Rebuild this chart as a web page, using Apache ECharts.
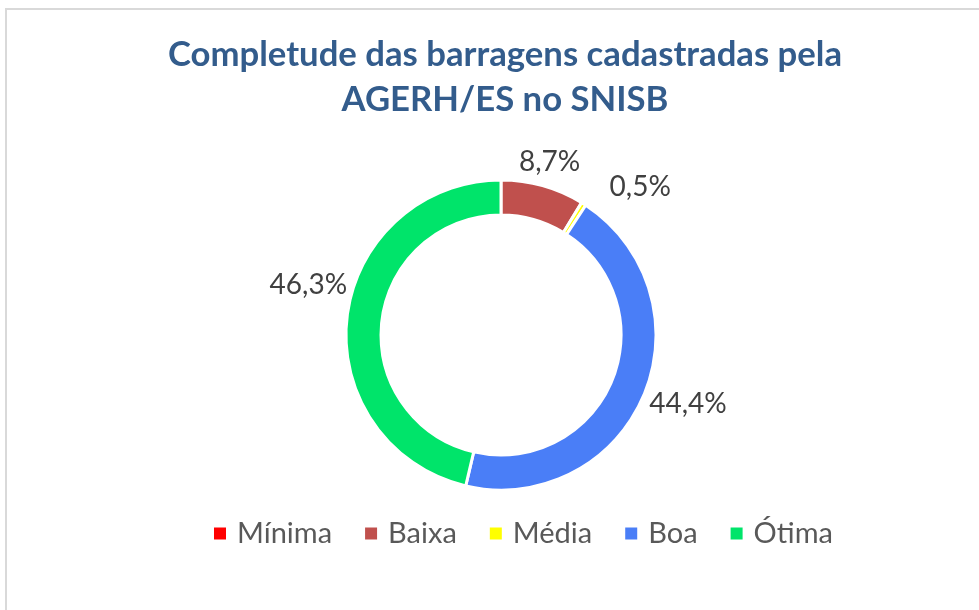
<!DOCTYPE html>
<html>
<head>
<meta charset="utf-8">
<script src="https://cdn.jsdelivr.net/npm/echarts@6/dist/echarts.min.js"></script>
<style>
html,body{margin:0;padding:0;background:#fff;}
#chart{width:979px;height:610px;}
</style>
</head>
<body>
<div id="chart"></div>
<script>
// categorias e valores (%)
var categorias = ['Mínima', 'Baixa', 'Média', 'Boa', 'Ótima'];
var valores = [0, 8.7, 0.5, 44.4, 46.3];
var cores = ['#FF0000', '#C0504D', '#FFFF00', '#4A7EF7', '#00E46A'];

var cx = 501, cy = 335, rExt = 155;
// ajuste manual dos rótulos (o Excel desloca alguns para nao sobrepor)
var ajusteRotulo = {
	'Média': { ang: 11, dist: 14 },
	'Boa': { ang: -3, dist: 0 },
	'Ótima': { ang: 8, dist: 0 }
};

var dados = [];
for (var i = 0; i < categorias.length; i++) {
	dados.push({ name: categorias[i], value: valores[i], itemStyle: { color: cores[i] } });
}

// angulo medio de cada fatia (graus, a partir das 12h no sentido horario)
var total = 0;
for (var i = 0; i < valores.length; i++) total += valores[i];
var angMeio = [];
var acum = 0;
for (var i = 0; i < valores.length; i++) {
	angMeio[i] = (acum + valores[i] / 2) / total * 360;
	acum += valores[i];
}

var myChart = echarts.init(document.getElementById('chart'));
var option = {
	backgroundColor: '#fff',
	title: {
		text: 'Completude das barragens cadastradas pela\nAGERH/ES no SNISB',
		left: 500,
		textAlign: 'center',
		top: 27,
		textStyle: {
			fontFamily: 'Lato',
			fontWeight: 'bold',
			fontSize: 34.7,
			lineHeight: 45,
			color: '#335C8C'
		}
	},
	legend: {
		data: categorias,
		top: 519,
		left: 212,
		padding: 0,
		icon: 'rect',
		itemWidth: 14,
		itemHeight: 14,
		itemGap: 31,
		textStyle: { fontFamily: 'Lato', fontSize: 29, color: '#595959', padding: [0, 0, 0, 5] }
	},
	graphic: [{
		type: 'rect',
		shape: { x: 6, y: 9, width: 1200, height: 900 },
		style: { fill: 'none', stroke: '#D9D9D9', lineWidth: 2 },
		silent: true
	}],
	series: [{
		type: 'pie',
		radius: [120, rExt],
		center: [cx, cy],
		startAngle: 90,
		clockwise: true,
		avoidLabelOverlap: false,
		itemStyle: { borderColor: '#fff', borderWidth: 3 },
		label: {
			show: true,
			position: 'outside',
			fontFamily: 'Lato',
			fontSize: 28,
			color: '#404040',
			formatter: function(p) {
				if (p.value === 0) return '';
				return p.value.toFixed(1).replace('.', ',') + '%';
			}
		},
		labelLine: { show: false },
		labelLayout: function(p) {
			var idx = p.dataIndex;
			var ang = angMeio[idx];
			var extra = 3;
			var aj = ajusteRotulo[categorias[idx]];
			if (aj) { ang += aj.ang; extra += aj.dist; }
			var t = ang * Math.PI / 180;
			var s = Math.sin(t), c = Math.cos(t);
			var hw = p.labelRect.width / 2, hh = p.labelRect.height / 2;
			var d = rExt + extra + hw * Math.abs(s) + hh * Math.abs(c);
			return {
				x: cx + d * s,
				y: cy - d * c,
				align: 'center',
				verticalAlign: 'middle',
				hideOverlap: false
			};
		},
		emphasis: { disabled: true },
		data: dados
	}]
};
myChart.setOption(option);
</script>
</body>
</html>
